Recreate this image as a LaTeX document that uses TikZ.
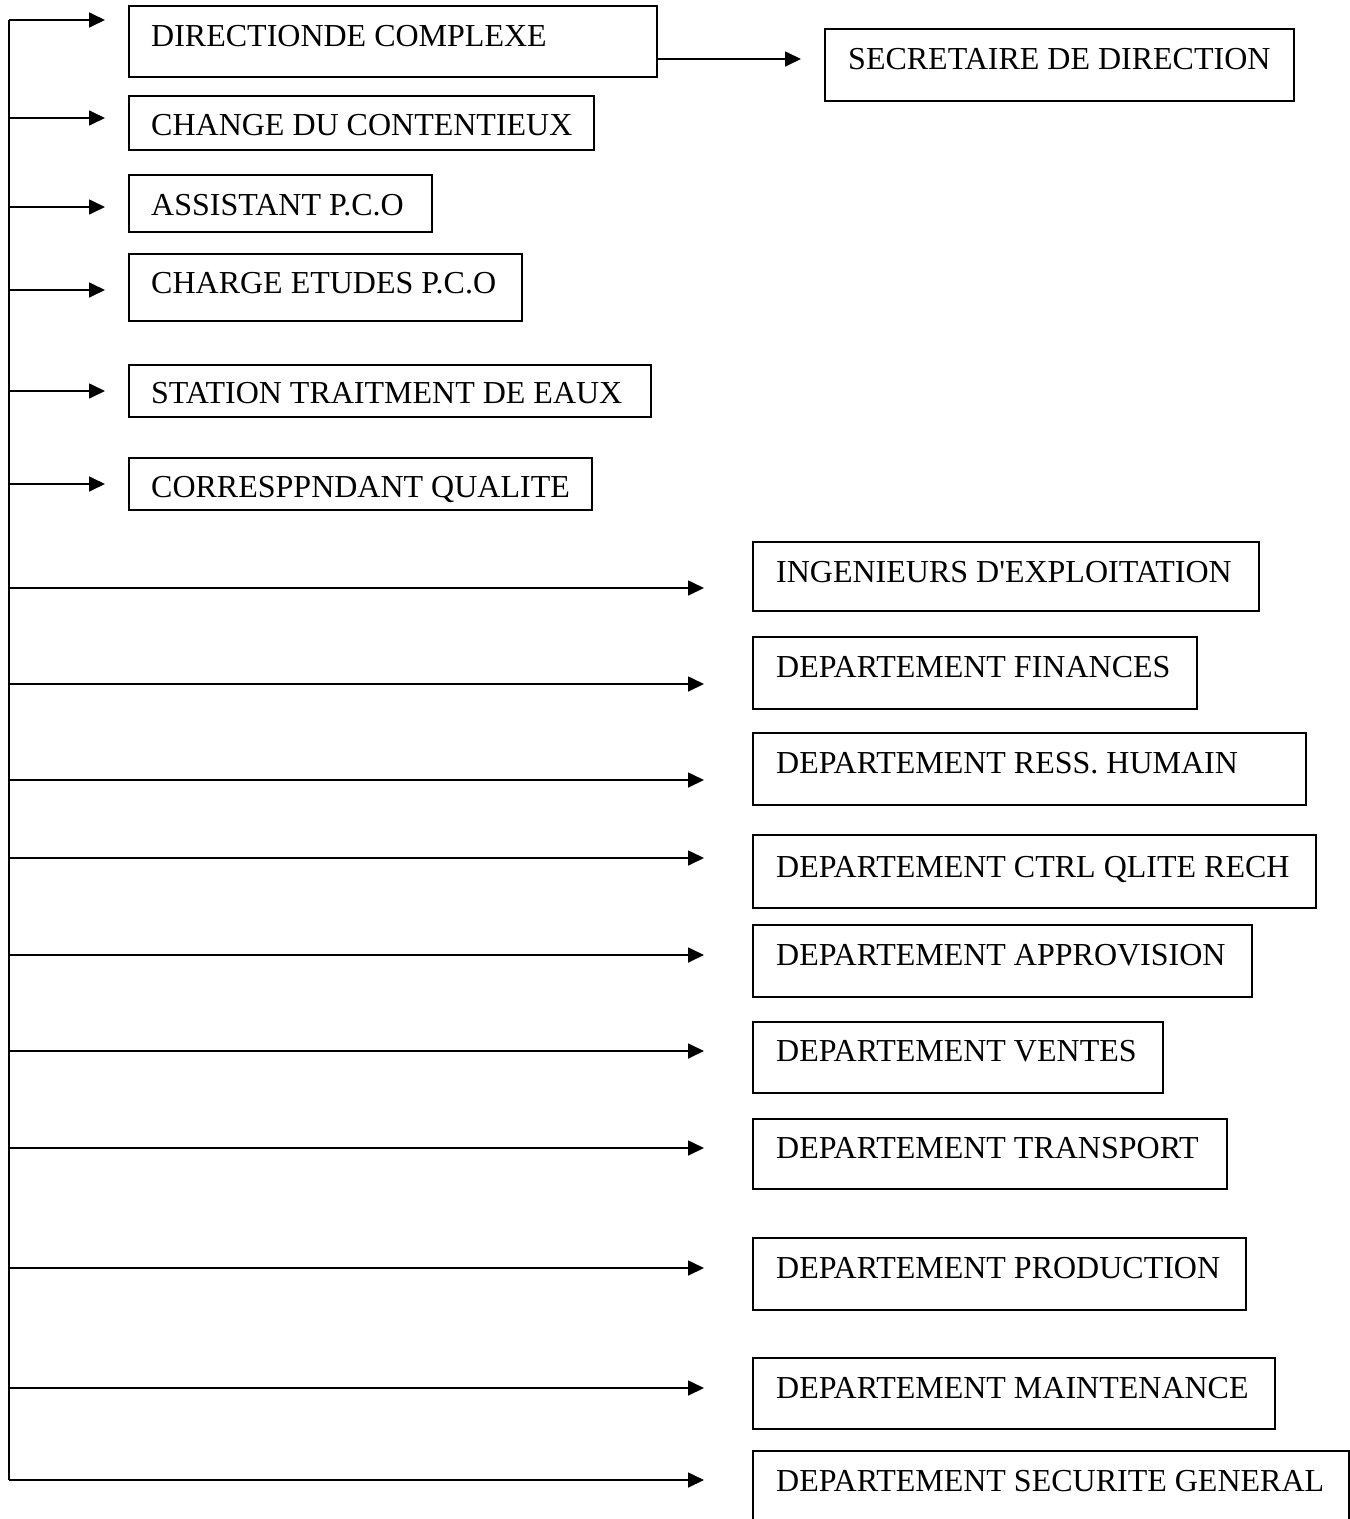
\documentclass[tikz,border=0pt]{standalone}
\usepackage{fontspec}
\setmainfont{Liberation Serif}
\usetikzlibrary{arrows.meta,calc}
\begin{document}
\begin{tikzpicture}[x=1pt,y=-1pt,
  box/.style={draw,line width=1.7pt,inner sep=0pt,anchor=north west},
  lbl/.style={anchor=base west,inner sep=0pt,font=\fontsize{32}{38}\selectfont},
  arr/.style={line width=1.7pt,-{Triangle[length=16pt,width=15pt]}},
  trunkline/.style={line width=1.7pt}]
\clip (0,0) rectangle (1350,1519);
\useasboundingbox (0,0) rectangle (1350,1519);
% left column boxes
\node[box,minimum width=528,minimum height=71] (b1) at (128,5) {};
\node[lbl] (t1) at (151,46) {DIRECTIONDE COMPLEXE};
\node[box,minimum width=465,minimum height=54] (b2) at (128,95) {};
\node[lbl] (t2) at (151,135) {CHANGE DU CONTENTIEUX};
\node[box,minimum width=303,minimum height=57] (b3) at (128,174) {};
\node[lbl] (t3) at (151,215) {ASSISTANT P.C.O};
\node[box,minimum width=393,minimum height=67] (b4) at (128,253) {};
\node[lbl] (t4) at (151,293) {CHARGE ETUDES P.C.O};
\node[box,minimum width=522,minimum height=52] (b5) at (128,364) {};
\node[lbl] (t5) at (151,403) {STATION TRAITMENT DE EAUX};
\node[box,minimum width=463,minimum height=52] (b6) at (128,457) {};
\node[lbl] (t6) at (151,497) {CORRESPPNDANT QUALITE};
% secretary
\node[box,minimum width=469,minimum height=72] (s) at (824,28) {};
\node[lbl] (ts) at (848,69) {SECRETAIRE DE DIRECTION};
% right column boxes
\node[box,minimum width=506,minimum height=69] (r1) at (752,541) {};
\node[lbl] (u1) at (776,582) {INGENIEURS D\textquotesingle EXPLOITATION};
\node[box,minimum width=444,minimum height=72] (r2) at (752,636) {};
\node[lbl] (u2) at (776,677) {DEPARTEMENT FINANCES};
\node[box,minimum width=553,minimum height=72] (r3) at (752,732) {};
\node[lbl] (u3) at (776,773) {DEPARTEMENT RESS. HUMAIN};
\node[box,minimum width=563,minimum height=73] (r4) at (752,834) {};
\node[lbl] (u4) at (776,877) {DEPARTEMENT CTRL QLITE RECH};
\node[box,minimum width=499,minimum height=72] (r5) at (752,924) {};
\node[lbl] (u5) at (776,965) {DEPARTEMENT APPROVISION};
\node[box,minimum width=410,minimum height=71] (r6) at (752,1021) {};
\node[lbl] (u6) at (776,1061) {DEPARTEMENT VENTES};
\node[box,minimum width=474,minimum height=70] (r7) at (752,1118) {};
\node[lbl] (u7) at (776,1158) {DEPARTEMENT TRANSPORT};
\node[box,minimum width=493,minimum height=72] (r8) at (752,1237) {};
\node[lbl] (u8) at (776,1278) {DEPARTEMENT PRODUCTION};
\node[box,minimum width=522,minimum height=71] (r9) at (752,1357) {};
\node[lbl] (u9) at (776,1398) {DEPARTEMENT MAINTENANCE};
\node[box,minimum width=596,minimum height=100] (r10) at (752,1450) {};
\node[lbl] (u10) at (776,1491) {DEPARTEMENT SECURITE GENERAL};
% trunk
\coordinate (tt) at (9,20);
\coordinate (tb) at (9,1480);
\draw[trunkline] (tt) -- (tb);
% arrow end points
\coordinate (e1) at (105,20);
\coordinate (e2) at (105,118);
\coordinate (e3) at (105,207);
\coordinate (e4) at (105,290);
\coordinate (e5) at (105,391);
\coordinate (e6) at (105,484);
\coordinate (f1) at (704,588);
\coordinate (f2) at (704,684);
\coordinate (f3) at (704,780);
\coordinate (f4) at (704,858);
\coordinate (f5) at (704,955);
\coordinate (f6) at (704,1051);
\coordinate (f7) at (704,1148);
\coordinate (f8) at (704,1268);
\coordinate (f9) at (704,1388);
\coordinate (f10) at (704,1480);
\foreach \e in {e1,e2,e3,e4,e5,e6,f1,f2,f3,f4,f5,f6,f7,f8,f9,f10}
  \draw[arr] (tt |- \e) -- (\e);
% direction to secretary
\coordinate (se) at (801,59);
\draw[arr] (b1.east |- se) -- (se);
\end{tikzpicture}
\end{document}
